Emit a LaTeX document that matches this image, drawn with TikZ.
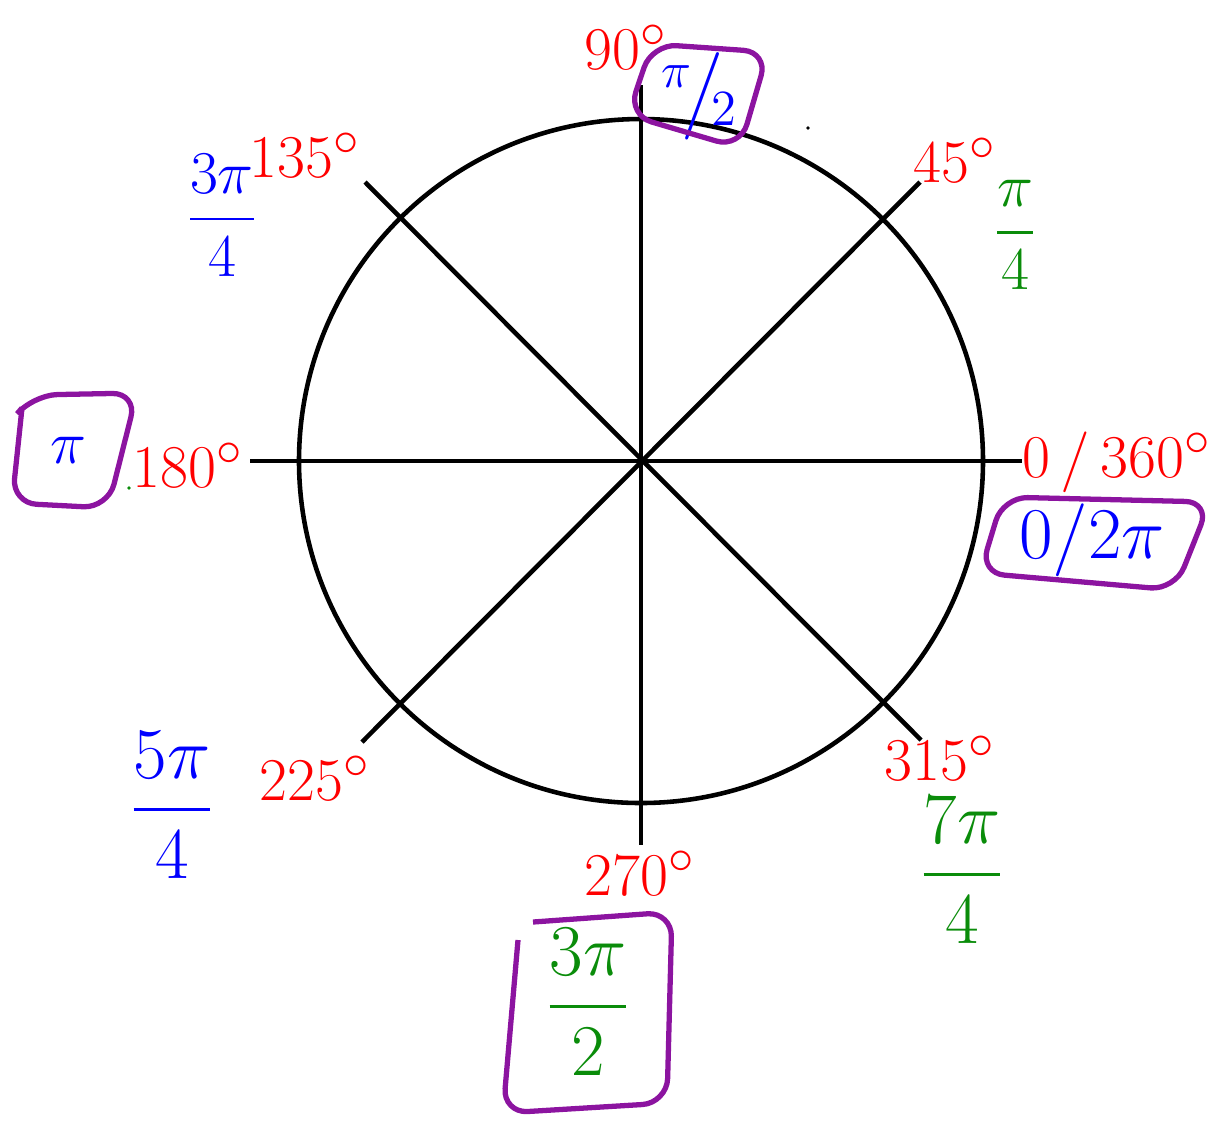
\documentclass[tikz,border=0pt]{standalone}
\usepackage{amsmath}
\usepackage{tikz}
\usetikzlibrary{positioning,calc}
\definecolor{rojo}{RGB}{255,0,0}
\definecolor{azul}{RGB}{0,0,255}
\definecolor{verde}{RGB}{10,140,10}
\definecolor{morado}{RGB}{140,20,160}

\begin{document}
\begin{tikzpicture}[
  x=0.01cm, y=-0.01cm,
  eje/.style={line width=1.3pt, black},
  grados/.style={text=rojo, font=\fontsize{19}{22}\selectfont, inner sep=0pt},
  radianes/.style={font=\fontsize{19}{22}\selectfont, inner sep=0pt},
  grande/.style={font=\fontsize{21}{24}\selectfont},
  caja/.style={draw=morado, line width=1.5pt, rounded corners=7pt},
]
\useasboundingbox (0,0) rectangle (1212,1120);
% ---- Circulo y ejes --------------------------------------------------------
\coordinate (O) at (641,461);
\coordinate (e0) at (1022,461);
\coordinate (e180) at (250,461);
\coordinate (e90) at (641,85);
\coordinate (e270) at (641,845);
\coordinate (e45) at (920,182);
\coordinate (e225) at (362,742);
\coordinate (e135) at (365,182);
\coordinate (e315) at (921,740);
\draw[eje] (O) circle (342);
\draw[eje] (e180) -- (e0);
\draw[eje] (e90) -- (e270);
\draw[eje] (e135) -- (e315);
\draw[eje] (e225) -- (e45);
% ---- Grados ----------------------------------------------------------------
\node[grados] (g90) at (626,47) {$90^\circ$};
\node[grados] (g45) at (955,160) {$45^\circ$};
\node[grados] (g135) at (305,155) {$135^\circ$};
\node[grados] (g180) at (188,465) {$180^\circ$};
\node[grados] (g0) at (1117,462) {$0\,/\,360^\circ$};
\node[grados] (g225) at (315,778) {$225^\circ$};
\node[grados] (g270) at (640,873) {$270^\circ$};
\node[grados] (g315) at (940,758) {$315^\circ$};
% ---- Radianes --------------------------------------------------------------
\node[radianes, grande, text=azul] (r90) at (700,96) {$^{\pi}\!\big/\!_{2}$};
\node[radianes, text=verde] (r45) at (1015,235) {$\dfrac{\pi}{4}$};
\node[radianes, text=azul] (r135) at (222,215) {$\dfrac{3\pi}{4}$};
\node[radianes, text=azul] (r180) at (68,450) {$\pi$};
\node[radianes, grande, text=azul] (r0) at (1092,540) {$0/2\pi$};
\node[radianes, grande, text=azul] (r225) at (172,805) {$\dfrac{5\pi}{4}$};
\node[radianes, grande, text=verde] (r270) at (588,1002) {$\dfrac{3\pi}{2}$};
\node[radianes, grande, text=verde] (r315) at (962,870) {$\dfrac{7\pi}{4}$};
% ---- Cajas -----------------------------------------------------------------
\draw[caja] (652,44) -- (768,52) -- (740,148) -- (628,115) -- cycle;
\draw[caja] (22,408) -- (33,395) -- (137,393) -- (108,508) -- (12,503) -- (22,408);
\draw[caja] (1003,497) -- (1210,502) -- (1175,590) -- (980,573) -- cycle;
\draw[caja] (518,940) -- (503,1113) -- (667,1103) -- (672,912) -- (533,922);
% ---- Puntos sueltos --------------------------------------------------------
\fill[black] (808,128) circle (1.8);
\fill[verde] (129,488) circle (1.8);
\end{tikzpicture}
\end{document}
